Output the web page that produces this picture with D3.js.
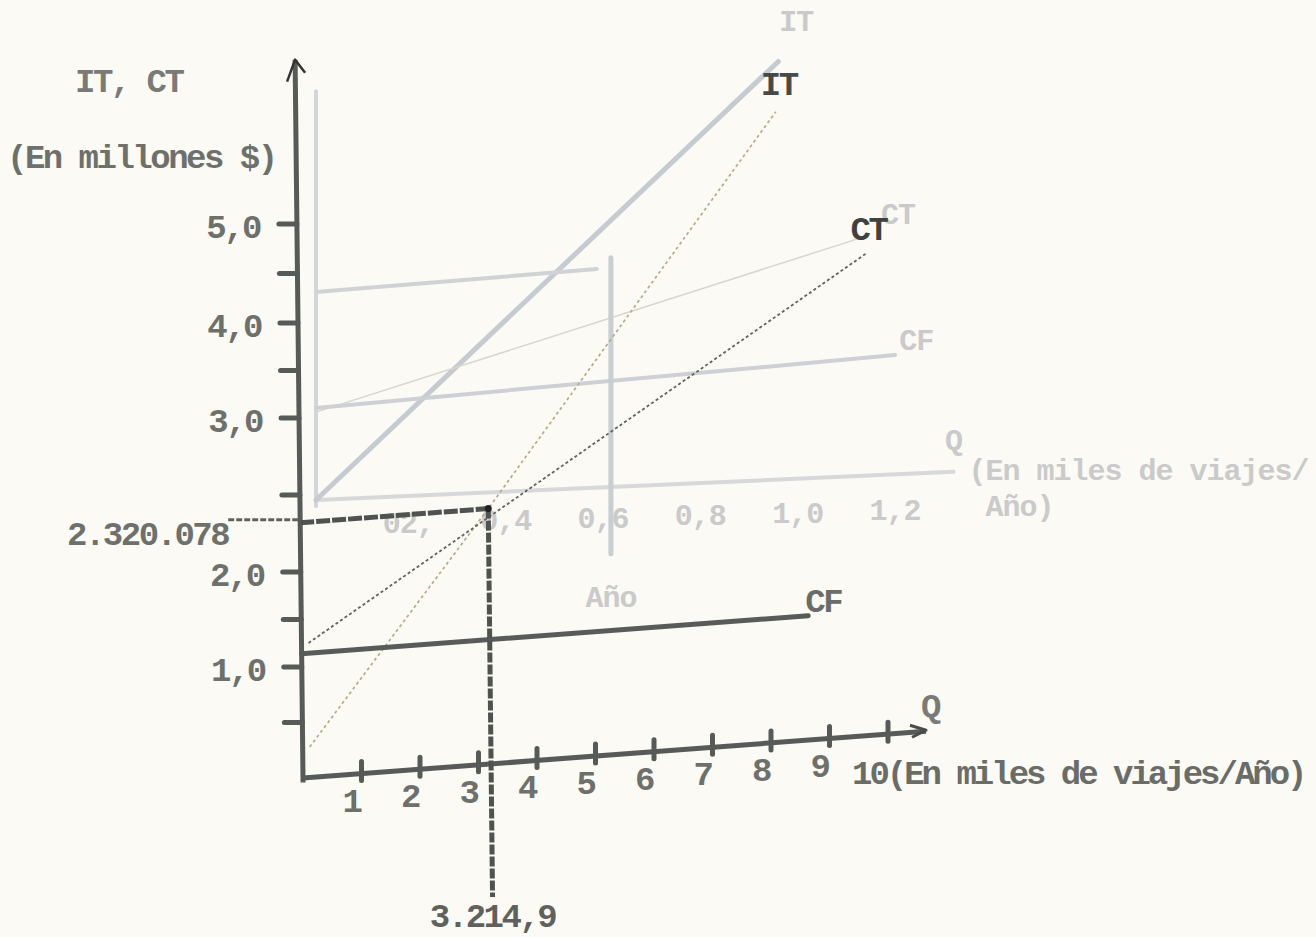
<!DOCTYPE html>
<html><head><meta charset="utf-8">
<script src="https://cdn.jsdelivr.net/npm/d3@7"></script>
<style>
html,body{margin:0;padding:0;background:#fbfaf4;}
svg{display:block;}
text{font-family:"Liberation Mono","DejaVu Sans Mono",monospace;font-weight:bold;font-size:34px;letter-spacing:-2.5px;}
</style></head><body>
<svg id="chart" width="1316" height="937"></svg>
<script>
// ---------- DATA (Q in thousands of trips/year, IT/CT in millions $) ----------
const xTicks      = [1,2,3,4,5,6,7,8,9,10];
const xTickLabels = ["1","2","3","4","5","6","7","8","9","10"];
const yMajorTicks = [1,2,3,4,5];
const yTickLabels = ["1,0","2,0","3,0","4,0","5,0"];
const yMinorTicks = [0.5,1.5,2.5,3.5,4.5];
const breakEvenQ  = 3.2149;
const breakEvenIT = 2.320078;
const breakEvenQLabel  = "3.214,9";
const breakEvenITLabel = "2.320.078";
const itPoints = [[0.12,0.275],[3.2149,2.32],[8.2,5.77]];
const ctPoints = [[0.12,1.247],[9.74,4.28]];
const cfPoints = [[0,1.14],[8.66,1.14]];
const seriesNames = ["IT","CT","CF"];
const yTitle = ["IT, CT","(En millones $)"];
const xTitle = "(En miles de viajes/Año)";
const xAxisLetter = "Q";

// show-through (next page) faint chart
const ghostXTicks      = [0.2,0.4,0.6,0.8,1.0,1.2];
const ghostXTickLabels = ["02,","0,4","0,6","0,8","1,0","1,2"];
const ghostAxisY = [[0,-0.01],[0,0.67]];
const ghostAxisX = [[0,0],[1.31,0.02]];
const ghostIT = [[0,0],[0.95,0.70]];
const ghostCT = [[0,0.144],[1.118,0.407]];
const ghostCF = [[0,0.151],[1.19,0.214]];
const ghostP  = [[0,0.341],[0.577,0.367]];
const ghostV  = [[0.606,0.385],[0.606,-0.10]];
const ghostTexts = ["IT","CT","CF","Q","(En miles de viajes/","Año)","Año"];

// ---------- LAYOUT ----------
const svg = d3.select("#chart");
const x = d3.scaleLinear().domain([0,10]).range([303,888]);
// hand-drawn, unevenly spaced vertical scale
const y = d3.scaleLinear().domain([0,1,2,3,4,5]).range([778,667,572,418,323,224]);
const shearB = -0.075, shearC = 0.011;       // hand-drawn page tilt
const P = (q,v) => { const X=x(q), Y=y(v);
  return [X + shearC*(Y - y(0)), Y + shearB*(X - x(0))]; };

const gx = d3.scaleLinear().domain([0,1.2]).range([316,900]);
const gy = d3.scaleLinear().domain([0,0.5]).range([500,195]);
const G = (q,v) => { const X=gx(q), Y=gy(v); return [X, Y - 0.025*(X - gx(0))]; };

const line = (f) => d3.line().x(d=>f(d[0],d[1])[0]).y(d=>f(d[0],d[1])[1]);

// ---------- GHOST LAYER ----------
const gl = svg.append("g");
const ghostStyles = [
  [ghostAxisY,"#d3d6d9",4],[ghostAxisX,"#d6d8da",4],
  [ghostIT,"#c5cbd1",5],[ghostCT,"#d9d7cc",1.5],
  [ghostCF,"#cdd1d5",4],[ghostP,"#cfd3d6",4],[ghostV,"#c9ced2",5]];
ghostStyles.forEach(([pts,col,w])=>{
  gl.append("path").attr("d",line(G)(pts)).attr("fill","none")
    .attr("stroke",col).attr("stroke-width",w).attr("stroke-linecap","round");
});
const gc = "#cacaca";
const gt = (xx,yy,s,anchor) => gl.append("text").attr("x",xx).attr("y",yy)
  .attr("text-anchor",anchor||"start").attr("fill",gc)
  .style("font-size","30px").style("letter-spacing","-1px").text(s);
ghostXTicks.forEach((t,i)=>{ const p=G(t,0); gt(p[0]-5,p[1]+35,ghostXTickLabels[i],"middle"); });
{
  const e1=G(...ghostIT[1]), e2=G(...ghostCT[1]), e3=G(...ghostCF[1]), e4=G(...ghostAxisX[1]), e5=G(...ghostV[1]);
  gt(e1[0]+18,e1[1]-30,ghostTexts[0],"middle");
  gt(e2[0]+38,e2[1]-14,ghostTexts[1],"middle");
  gt(e3[0]+21,e3[1]-5,ghostTexts[2],"middle");
  gt(e4[0],e4[1]-22,ghostTexts[3],"middle");
  gt(e4[0]+15,e4[1]+8,ghostTexts[4]);
  gt(e4[0]+32,e4[1]+44,ghostTexts[5]);
  gt(e5[0],e5[1]+53,ghostTexts[6],"middle");
}

// ---------- MAIN CHART ----------
const g = svg.append("g");
const axisCol = "#565b57";

// dotted IT / CT lines
g.append("path").attr("d",line(P)(itPoints)).attr("fill","none")
  .attr("stroke","#b3ab88").attr("stroke-width",1.7).attr("stroke-dasharray","3,3");
g.append("path").attr("d",line(P)(ctPoints)).attr("fill","none")
  .attr("stroke","#5f635e").attr("stroke-width",1.8).attr("stroke-dasharray","3,2.5");

// CF line
g.append("path").attr("d",line(P)(cfPoints)).attr("fill","none")
  .attr("stroke","#575c58").attr("stroke-width",5).attr("stroke-linecap","round");

// axes
const yTop = 6.66, xEnd = 10.65;
g.append("path").attr("d",line(P)([[0,-0.04],[0,yTop]])).attr("stroke",axisCol)
  .attr("stroke-width",5).attr("fill","none");
g.append("path").attr("d",line(P)([[0,0],[xEnd,0]])).attr("stroke",axisCol)
  .attr("stroke-width",5).attr("fill","none");
// arrow heads
{
  const t=P(0,yTop);
  g.append("path").attr("d",`M${t[0]-8},${t[1]+22}L${t[0]},${t[1]}L${t[0]+10},${t[1]+13}`)
    .attr("fill","none").attr("stroke","#333").attr("stroke-width",2.5).attr("stroke-linejoin","round");
  const a=P(xEnd,0);
  g.append("path").attr("d",`M${a[0]-16},${a[1]-6}L${a[0]},${a[1]-1}L${a[0]-14},${a[1]+6}`)
    .attr("fill","none").attr("stroke","#4a4e4b").attr("stroke-width",3).attr("stroke-linejoin","round");
  g.append("text").attr("x",a[0]+4).attr("y",a[1]-14).attr("text-anchor","middle")
    .attr("fill","#7a7a76").text(xAxisLetter);
}
// y ticks
yMajorTicks.concat(yMinorTicks).forEach(v=>{
  const p=P(0,v);
  g.append("line").attr("x1",p[0]-18).attr("x2",p[0]).attr("y1",p[1]).attr("y2",p[1])
    .attr("stroke",axisCol).attr("stroke-width",5).attr("stroke-linecap","round");
});
yMajorTicks.forEach((v,i)=>{
  const p=P(0,v);
  g.append("text").attr("x",p[0]-37).attr("y",p[1]+14).attr("text-anchor","end")
    .attr("fill","#6e706c").text(yTickLabels[i]);
});
// x ticks
xTicks.forEach((q,i)=>{
  const p=P(q,0);
  g.append("line").attr("x1",p[0]).attr("x2",p[0]).attr("y1",p[1]-12).attr("y2",p[1]+7)
    .attr("stroke",axisCol).attr("stroke-width",5).attr("stroke-linecap","round");
  if(i < xTicks.length-1){
    g.append("text").attr("x",p[0]-10).attr("y",p[1]+38).attr("text-anchor","middle")
      .attr("fill","#6e706c").text(xTickLabels[i]);
  } else {
    const t = g.append("text").attr("x",p[0]-36).attr("y",p[1]+50).attr("fill","#6a6c68")
      .style("letter-spacing","-3px");
    t.append("tspan").text(xTickLabels[i]);
    t.append("tspan").text(xTitle);
  }
});
// y titles
g.append("text").attr("x",75).attr("y",92).attr("fill","#7a7b77").text(yTitle[0]);
g.append("text").attr("x",7).attr("y",168).attr("fill","#6e706c").text(yTitle[1]);

// break-even guide lines
{
  const be=P(breakEvenQ,breakEvenIT), a0=P(0,breakEvenIT), vb=P(breakEvenQ,-1.20);
  g.append("line").attr("x1",a0[0]-72).attr("x2",a0[0]).attr("y1",a0[1]-3).attr("y2",a0[1]-3)
    .attr("stroke","#5f625e").attr("stroke-width",3).attr("stroke-dasharray","6,2");
  g.append("path").attr("d",line(P)([[0,breakEvenIT],[breakEvenQ,breakEvenIT]]))
    .attr("stroke","#4f534f").attr("stroke-width",5).attr("stroke-dasharray","14,2").attr("fill","none");
  g.append("path").attr("d",line(P)([[breakEvenQ,breakEvenIT],[breakEvenQ,-1.20]]))
    .attr("stroke","#4f534f").attr("stroke-width",5).attr("stroke-dasharray","10,2").attr("fill","none");
  g.append("circle").attr("cx",be[0]).attr("cy",be[1]).attr("r",3.5).attr("fill","#222");
  g.append("text").attr("x",a0[0]-72).attr("y",a0[1]+22).attr("text-anchor","end")
    .attr("fill","#6e706c").text(breakEvenITLabel);
  g.append("text").attr("x",vb[0]).attr("y",vb[1]+30).attr("text-anchor","middle")
    .attr("fill","#5f615d").text(breakEvenQLabel);
}
// series labels
{
  const e1=P(...itPoints[itPoints.length-1]), e2=P(...ctPoints[1]), e3=P(...cfPoints[1]);
  g.append("text").attr("x",e1[0]+3).attr("y",e1[1]-17).attr("text-anchor","middle").attr("fill","#484a47").text(seriesNames[0]);
  g.append("text").attr("x",e2[0]+1).attr("y",e2[1]-13).attr("text-anchor","middle").attr("fill","#3f413e").text(seriesNames[1]);
  g.append("text").attr("x",e3[0]-3).attr("y",e3[1]-4).attr("fill","#6a6c68").text(seriesNames[2]);
}
</script></body></html>
